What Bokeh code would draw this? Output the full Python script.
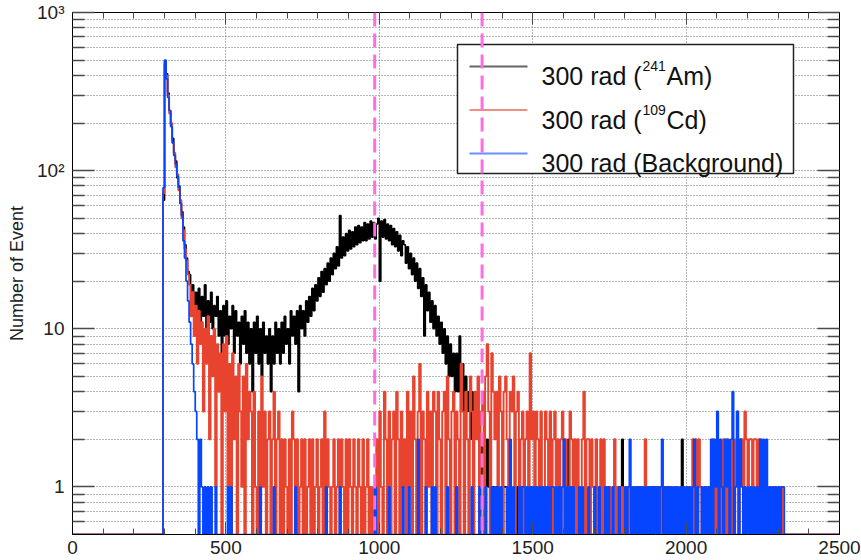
import numpy as np
from bokeh.plotting import figure
from bokeh.models import (Range1d, FixedTicker, LinearAxis, LogAxis, Span, Label,
                          BoxAnnotation, CustomJSTickFormatter)
from bokeh.embed import file_html
from bokeh.resources import INLINE

# ---------------- data (counts per 5-unit bin, first bin starts at 280) ----------------
BIN_START = 280
BIN_WIDTH = 5

am241 = [
    0, 0, 0, 65, 470, 410, 310, 240, 195, 160, 125, 115, 90, 80, 62, 55, 44, 34, 28, 23,
    22, 15, 19, 12, 17, 11, 18, 10, 16, 12, 19, 9, 15, 11, 17, 10, 14, 12, 16, 9,
    13, 7, 14, 9, 15, 8, 12, 10, 14, 7, 13, 9, 11, 6, 12, 8, 13, 7, 11, 6,
    10, 4, 11, 7, 12, 6, 10, 5, 11, 7, 9, 6, 10, 4, 9, 6, 11, 7, 10, 6,
    11, 7, 12, 8, 10, 6, 13, 9, 12, 8, 13, 4, 14, 10, 13, 9, 15, 11, 16, 12,
    18, 13, 19, 15, 21, 16, 23, 17, 24, 19, 26, 20, 28, 22, 30, 24, 33, 25, 52, 28,
    38, 29, 40, 31, 42, 32, 41, 33, 44, 34, 45, 35, 44, 36, 47, 36, 46, 37, 48, 38,
    47, 37, 46, 50, 20, 48, 38, 49, 37, 46, 36, 45, 34, 43, 33, 41, 31, 39, 29, 36,
    34, 26, 33, 24, 30, 22, 28, 20, 26, 18, 24, 16, 21, 9, 19, 13, 17, 11, 15, 10,
    14, 9, 12, 8, 11, 7, 10, 6, 9, 5, 8, 5, 7, 4, 7, 4, 9, 3, 6, 3,
    5, 3, 4, 2, 4, 3, 4, 2, 3, 1, 2, 1, 0, 1, 2, 1, 0, 1, 1, 0,
    1, 0, 0, 0, 0, 1, 1, 0, 1, 0, 0, 0, 1, 0, 1, 0, 1, 0, 0, 0,
    0, 0, 1, 0, 0, 0, 1, 0, 0, 0, 1, 0, 1, 0, 0, 1, 0, 0, 0, 0,
    0, 1, 0, 0, 0, 0, 1, 2, 1, 0, 0, 0, 0, 1, 0, 0, 0, 0, 0, 0,
    0, 0, 0, 0, 0, 0, 1, 0, 0, 0, 0, 0, 1, 0, 0, 0, 0, 0, 0, 0,
    0, 1, 2, 0, 0, 0, 0, 0, 0, 0, 1, 0, 0, 1, 0, 1, 0, 1, 0, 0,
    1, 0, 1, 1, 0, 1, 0, 1, 0, 1, 0, 0, 1, 0, 0, 0, 0, 0, 0, 0,
    0, 2, 0, 0, 0, 1, 0, 0, 0, 0, 1, 0, 0, 0, 0, 0, 1, 0, 0, 0,
    0, 0, 0, 0, 0, 1, 0, 0, 0, 0, 0, 0, 0, 1, 0, 0, 0, 0, 0, 0,
    0, 0, 0, 0, 0, 0, 0, 1, 0, 0, 0, 0, 0, 0, 0, 0, 0, 0, 0, 0,
    0, 0, 0, 0, 0, 0, 0, 0, 0, 0, 0, 0, 0, 0, 0, 0, 0, 0, 0, 0,
]

cd109 = [
    0, 0, 0, 72, 490, 400, 300, 230, 200, 150, 130, 105, 95, 75, 65, 50, 42, 32, 27, 22,
    19, 12, 17, 9, 14, 6, 13, 8, 11, 3, 10, 6, 12, 2, 9, 5, 10, 1, 8, 4,
    7, 0, 8, 3, 9, 1, 6, 0, 7, 2, 5, 0, 6, 3, 1, 5, 0, 6, 2, 4,
    3, 0, 4, 1, 0, 3, 0, 5, 1, 3, 0, 2, 3, 0, 2, 4, 0, 2, 3, 0,
    2, 0, 2, 1, 0, 2, 0, 3, 2, 0, 2, 0, 1, 2, 0, 2, 0, 1, 2, 0,
    2, 0, 1, 2, 0, 1, 2, 0, 3, 0, 2, 1, 0, 1, 2, 0, 1, 2, 0, 2,
    1, 0, 2, 0, 2, 1, 0, 2, 1, 0, 2, 1, 0, 2, 0, 1, 2, 0, 1, 0,
    1, 0, 2, 0, 3, 1, 0, 4, 2, 0, 3, 0, 2, 3, 0, 4, 2, 0, 3, 1,
    2, 0, 4, 1, 3, 0, 5, 2, 0, 3, 6, 0, 3, 2, 0, 4, 1, 3, 0, 4,
    3, 0, 4, 2, 0, 3, 4, 0, 5, 2, 0, 3, 4, 0, 3, 2, 0, 6, 3, 0,
    4, 2, 0, 5, 3, 0, 4, 2, 5, 0, 3, 4, 0, 5, 8, 3, 0, 7, 4, 2,
    4, 0, 5, 3, 0, 4, 5, 2, 0, 4, 3, 5, 0, 3, 4, 0, 2, 3, 0, 2,
    3, 0, 7, 2, 3, 0, 3, 2, 0, 3, 1, 0, 3, 2, 0, 3, 0, 2, 3, 0,
    2, 0, 2, 3, 0, 2, 1, 0, 3, 2, 0, 2, 0, 2, 1, 0, 2, 4, 0, 2,
    2, 0, 2, 1, 0, 2, 0, 1, 2, 0, 2, 0, 1, 0, 1, 0, 1, 2, 0, 1,
    1, 0, 1, 0, 0, 1, 0, 1, 0, 0, 1, 0, 1, 0, 0, 1, 0, 2, 0, 1,
    0, 1, 0, 0, 1, 0, 0, 1, 0, 0, 1, 0, 0, 0, 1, 0, 0, 1, 0, 0,
    0, 0, 1, 0, 0, 1, 0, 0, 2, 0, 2, 0, 2, 1, 0, 0, 1, 0, 0, 1,
    0, 2, 0, 1, 0, 0, 1, 0, 2, 0, 2, 0, 1, 0, 2, 0, 2, 3, 0, 2,
    2, 0, 3, 2, 0, 2, 2, 0, 2, 2, 0, 2, 2, 0, 1, 0, 1, 0, 0, 1,
    0, 1, 0, 0, 1, 0, 1, 0, 0, 0, 0, 0, 0, 0, 0, 0, 0, 0, 0, 0,
]

background = [
    0, 0, 0, 78, 500, 380, 290, 240, 190, 150, 125, 110, 92, 78, 62, 52, 36, 28, 20, 15,
    11, 8, 6, 4, 3, 2, 0, 2, 1, 0, 1, 0, 1, 0, 1, 0, 0, 1, 0, 0,
    0, 0, 0, 0, 0, 1, 0, 1, 0, 0, 0, 0, 0, 0, 0, 0, 0, 0, 0, 0,
    0, 0, 0, 0, 0, 0, 1, 0, 0, 0, 0, 0, 0, 0, 0, 1, 0, 0, 0, 0,
    0, 0, 0, 0, 0, 0, 0, 0, 0, 1, 0, 0, 0, 0, 0, 0, 0, 0, 0, 0,
    0, 0, 0, 0, 0, 0, 0, 0, 0, 1, 0, 0, 0, 0, 0, 0, 0, 0, 1, 0,
    0, 0, 0, 0, 0, 0, 0, 0, 0, 0, 0, 0, 0, 0, 0, 0, 0, 0, 0, 0,
    0, 1, 0, 0, 0, 0, 0, 0, 0, 0, 1, 0, 0, 0, 0, 0, 0, 0, 0, 1,
    0, 0, 0, 1, 0, 0, 0, 0, 0, 2, 0, 0, 0, 0, 1, 0, 0, 0, 1, 0,
    1, 0, 0, 0, 0, 0, 0, 0, 1, 0, 0, 0, 0, 0, 1, 0, 0, 0, 0, 0,
    0, 0, 0, 0, 1, 0, 0, 0, 0, 1, 0, 0, 0, 1, 0, 0, 0, 1, 0, 1,
    0, 1, 0, 1, 0, 0, 0, 1, 0, 2, 0, 1, 0, 0, 0, 1, 0, 1, 1, 0,
    1, 0, 1, 0, 1, 0, 1, 0, 1, 0, 1, 0, 1, 0, 1, 0, 1, 1, 0, 1,
    0, 1, 0, 1, 2, 0, 1, 0, 1, 0, 1, 0, 0, 0, 1, 0, 1, 0, 0, 0,
    1, 0, 0, 0, 1, 0, 0, 1, 0, 0, 0, 1, 0, 1, 0, 0, 1, 0, 0, 0,
    1, 0, 0, 0, 1, 0, 1, 2, 0, 1, 0, 1, 0, 1, 0, 1, 0, 1, 0, 1,
    0, 1, 0, 1, 0, 1, 0, 1, 2, 0, 1, 0, 1, 0, 1, 0, 1, 0, 1, 0,
    1, 0, 1, 0, 1, 0, 1, 0, 1, 2, 0, 1, 0, 0, 1, 0, 1, 0, 1, 0,
    2, 0, 2, 1, 3, 0, 2, 1, 0, 2, 1, 2, 0, 2, 4, 0, 1, 3, 0, 2,
    1, 0, 1, 0, 1, 0, 1, 0, 1, 0, 1, 0, 2, 0, 2, 0, 2, 0, 1, 0,
    1, 0, 1, 0, 1, 0, 1, 1, 0, 0, 0, 0, 0, 0, 0, 0, 0, 0, 0, 0,
]

series_names = ["300 rad (", "300 rad (", "300 rad (Background)"]
series_sup = ["241", "109", ""]
series_tail = ["Am)", "Cd)", ""]
series_colors = ["#000000", "#e8432e", "#0545ff"]

x_ticks = [0, 500, 1000, 1500, 2000, 2500]
y_ticks = [1, 10, 100, 1000]
y_tick_labels = ["1", "10", "10\u00b2", "10\u00b3"]
cut_positions = [985, 1335]

X_MIN, X_MAX = 0, 2500
Y_MIN, Y_MAX = 0.5, 1000

# ---------------- layout ----------------
W, H = 861, 560
BL, BR, BT, BB = 72, 22, 12, 26
FL, FR, FT, FB = BL, W - BR, BT, H - BB
FONT = "Liberation Sans"


def px2x(px):
    return X_MIN + (px - FL) / (FR - FL) * (X_MAX - X_MIN)


def py2y(py):
    lo, hi = np.log10(Y_MIN), np.log10(Y_MAX)
    return 10 ** (hi - (py - FT) / (FB - FT) * (hi - lo))


def step_xy(counts):
    edges = BIN_START + BIN_WIDTH * np.arange(len(counts) + 1)
    vals = np.maximum(np.asarray(counts, dtype=float), Y_MIN)  # empty bins on frame bottom
    xs = [X_MIN, edges[0]]
    ys = [Y_MIN, Y_MIN]
    for i, v in enumerate(vals):
        xs += [edges[i], edges[i + 1]]
        ys += [v, v]
    xs += [edges[-1], X_MAX]
    ys += [Y_MIN, Y_MIN]
    return xs, ys


p = figure(width=W, height=H, output_backend="svg", toolbar_location=None,
           x_range=Range1d(X_MIN, X_MAX), y_range=Range1d(Y_MIN, Y_MAX),
           y_axis_type="log", min_border_left=BL, min_border_right=BR,
           min_border_top=BT, min_border_bottom=BB)
p.background_fill_color = "white"
p.border_fill_color = "white"
p.outline_line_color = "#000000"
p.outline_line_width = 1

x_minor = [v for v in range(100, 2500, 100)]
y_minor = [0.6, 0.7, 0.8, 0.9] + [k * 10 ** d for d in range(0, 3) for k in range(2, 10)]
xt = FixedTicker(ticks=x_ticks, minor_ticks=x_minor)
yt = FixedTicker(ticks=y_ticks, minor_ticks=y_minor)

TICK_COL = "#4a4a4a"

# bottom axis
xa = p.xaxis[0]
xa.ticker = xt
xa.major_tick_in, xa.major_tick_out = 12, 0
xa.minor_tick_in, xa.minor_tick_out = 6, 0
xa.major_label_standoff = 6
xa.major_label_text_font = FONT
xa.major_label_text_font_size = "19px"
xa.major_label_text_color = "#222222"
xa.axis_line_color = "#000000"
xa.major_tick_line_color = TICK_COL
xa.minor_tick_line_color = TICK_COL

# left axis
ya = p.yaxis[0]
ya.ticker = yt
ya.major_tick_in, ya.major_tick_out = 22, 0
ya.minor_tick_in, ya.minor_tick_out = 12, 0
ya.major_tick_line_width = 1.5
ya.minor_tick_line_width = 1.5
ya.major_label_standoff = 8
ya.major_label_overrides = {t: s for t, s in zip(y_ticks, y_tick_labels)}
ya.major_label_text_font = FONT
ya.major_label_text_font_size = "19px"
ya.major_label_text_color = "#222222"
ya.axis_label = "Number of Event"
ya.axis_label_text_font = FONT
ya.axis_label_text_font_size = "18px"
ya.axis_label_text_font_style = "normal"
ya.axis_label_text_color = "#222222"
ya.axis_label_standoff = 7
ya.axis_line_color = "#000000"
ya.major_tick_line_color = TICK_COL
ya.minor_tick_line_color = TICK_COL

blank = CustomJSTickFormatter(code="return ''")
top = LinearAxis(ticker=xt, formatter=blank, major_tick_in=12, major_tick_out=0,
                 minor_tick_in=6, minor_tick_out=0, major_label_standoff=0,
                 axis_line_color="#000000", major_tick_line_color=TICK_COL,
                 minor_tick_line_color=TICK_COL)
p.add_layout(top, "above")
right = LogAxis(ticker=yt, formatter=blank, major_tick_in=22, major_tick_out=0,
                minor_tick_in=12, minor_tick_out=0, major_label_standoff=0,
                axis_line_color="#000000", major_tick_line_color=TICK_COL,
                minor_tick_line_color=TICK_COL, major_tick_line_width=1.5,
                minor_tick_line_width=1.5)
p.add_layout(right, "right")

# grids: dotted
GRID_COL = "#6f6f6f"
p.xgrid.ticker = xt
p.xgrid.grid_line_color = GRID_COL
p.xgrid.grid_line_dash = "1 2"
p.xgrid.grid_line_width = 1
p.ygrid.ticker = yt
p.ygrid.grid_line_color = GRID_COL
p.ygrid.grid_line_dash = "1 2"
p.ygrid.minor_grid_line_color = GRID_COL
p.ygrid.minor_grid_line_dash = "1 2"

# histograms
widths = [1.6, 1.9, 1.7]
for counts, col, lw in zip([am241, cd109, background], series_colors, widths):
    xs, ys = step_xy(counts)
    p.line(xs, ys, line_color=col, line_width=lw, line_alpha=1.0)

# legend (drawn by hand to allow superscripts)
box = BoxAnnotation(left=px2x(457), right=px2x(793), top=py2y(44), bottom=py2y(173),
                    fill_color="white", fill_alpha=1.0, line_color="#222222",
                    line_alpha=1.0, line_width=1.5, level="annotation")
p.add_layout(box)
row_base = [75.5, 119.0, 162.5]
for i in range(3):
    ymid = py2y(row_base[i] - 9.5)
    p.line([px2x(469), px2x(527)], [ymid, ymid], line_color=series_colors[i],
           line_width=2, line_alpha=0.6, level="overlay")
    p.add_layout(Label(x=px2x(541), y=py2y(row_base[i]), text=series_names[i],
                       text_font=FONT, text_font_size="25px", text_color="#111111",
                       text_baseline="alphabetic", text_align="left"))
    if series_sup[i]:
        p.add_layout(Label(x=px2x(642), y=py2y(row_base[i] - 10), text=series_sup[i],
                           text_font=FONT, text_font_size="14px", text_color="#111111",
                           text_baseline="alphabetic", text_align="left"))
        p.add_layout(Label(x=px2x(666), y=py2y(row_base[i]), text=series_tail[i],
                           text_font=FONT, text_font_size="25px", text_color="#111111",
                           text_baseline="alphabetic", text_align="left"))

# dashed selection lines
for xc in cut_positions:
    p.add_layout(Span(location=xc, dimension="height", line_color="#ff6ee0",
                      line_width=3, line_dash="14 7", level="overlay"))

open("out.html", "w").write(file_html(p, INLINE))
